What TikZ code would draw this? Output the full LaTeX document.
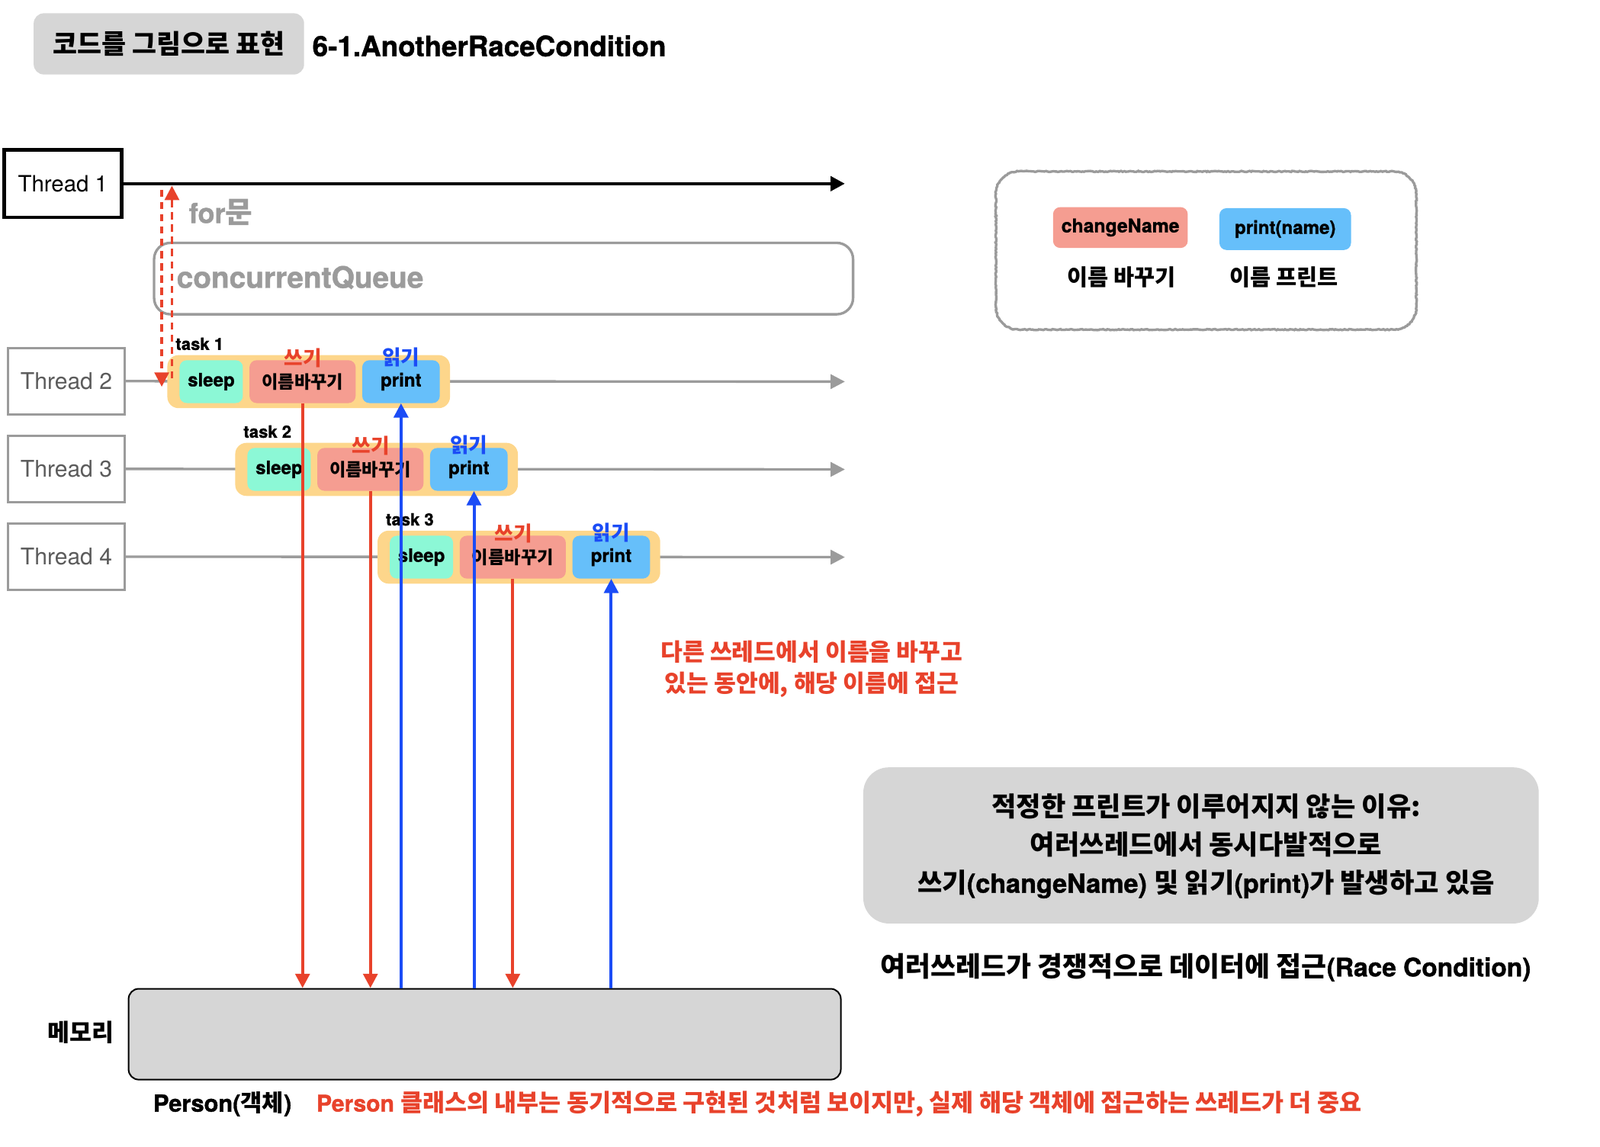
\documentclass[tikz,border=0pt]{standalone}
\usepackage{fontspec}
\setmainfont{TeX Gyre Heros}[BoldFeatures={FakeBold=1.2}]
\newfontfamily\kr{Noto Sans CJK KR}
\usetikzlibrary{arrows.meta,decorations.pathmorphing}
\definecolor{boxgray}{HTML}{D6D6D6}
\definecolor{taskorange}{HTML}{FDD68B}
\definecolor{mint}{HTML}{8CF8D6}
\definecolor{salmon}{HTML}{F59D91}
\definecolor{lblue}{HTML}{66BFFA}
\definecolor{wred}{HTML}{E8422B}
\definecolor{rblue}{HTML}{1B4CF6}
\definecolor{qgray}{HTML}{9B9B9B}
\definecolor{thtext}{HTML}{5B5B5B}
\newcommand\fsz[2]{\fontsize{#1}{#2}\selectfont}
\tikzset{
  tip/.style={-{Triangle[length=14pt,width=14pt]}},
  threadbox/.style={draw=qgray,line width=2.5pt,minimum width=114pt,minimum height=65pt,inner sep=0pt,text=thtext,font=\fsz{22.5}{27}},
  threadline/.style={draw=qgray,line width=2.5pt,tip},
  taskbox/.style={fill=taskorange,rounded corners=11pt,minimum width=277pt,minimum height=52pt,inner sep=0pt},
  cell/.style={rounded corners=7pt,minimum height=42pt,inner sep=0pt,font=\fsz{18}{22}\bfseries},
  sleepbox/.style={cell,fill=mint,minimum width=62pt},
  writebox/.style={cell,fill=salmon,minimum width=104pt,font=\kr\fsz{17.4}{21}\bfseries},
  printbox/.style={cell,fill=lblue,minimum width=76pt},
  wlabel/.style={text=wred,font=\kr\fsz{20}{24}\bfseries,inner sep=0pt},
  rlabel/.style={text=rblue,font=\kr\fsz{20}{24}\bfseries,inner sep=0pt},
  tasklabel/.style={anchor=west,inner sep=0pt,font=\fsz{16.5}{20}\bfseries},
  redarrow/.style={draw=wred,line width=3pt,tip},
  bluearrow/.style={draw=rblue,line width=3pt,tip},
  dasharrow/.style={draw=wred,line width=2.5pt,dash pattern=on 7pt off 5pt,tip},
  rough/.style={draw=qgray,line width=2.5pt,decorate,decoration={random steps,segment length=1.5pt,amplitude=0.5pt}},
}
\begin{document}
\begin{tikzpicture}[x=1pt,y=-1pt]
\useasboundingbox (0,0) rectangle (1568,1124);
% title
\node[fill=boxgray,rounded corners=10pt,minimum width=265pt,minimum height=60pt,inner sep=0pt,font=\kr\fsz{26}{30}\bfseries] (title) at (165.5,43) {코드를 그림으로 표현};
\node[anchor=west,inner sep=0pt,font=\fsz{27.5}{32}\bfseries] (title2) at (306,45) {6-1.AnotherRaceCondition};
% thread 1
\node[draw=black,line width=3.5pt,minimum width=115pt,minimum height=66pt,inner sep=0pt,font=\fsz{22}{26}] (th1) at (61.5,180) {Thread 1};
\coordinate (th1end) at (828,180);
\draw[line width=3.5pt,tip] (th1) -- (th1end);
% for loop label and queue
\node[anchor=west,inner sep=0pt,text=qgray,font=\fsz{27}{32}\bfseries] (forlbl) at (185,208) {for{\kr\fsz{29}{32}\bfseries 문}};
\node[draw=qgray,line width=2.5pt,rounded corners=16pt,minimum width=685pt,minimum height=70pt,inner sep=0pt] (cq) at (493.5,273) {};
\node[anchor=west,inner sep=0pt,text=qgray,font=\fsz{29}{34}\bfseries] (cqlbl) at (173,272) {concurrentQueue};
% threads 2-4
\node[threadbox] (th2) at (65,373.5) {Thread 2};
\node[threadbox] (th3) at (65,459.5) {Thread 3};
\node[threadbox] (th4) at (65,545.5) {Thread 4};
\coordinate (th2end) at (828,374);
\coordinate (th3end) at (828,460);
\coordinate (th4end) at (828,546);
\draw[threadline] (th2) -- (th2end);
\draw[threadline] (th3) -- (th3end);
\draw[threadline] (th4) -- (th4end);
% tasks
\foreach \i/\dx/\dy in {1/0/0,2/66.5/86,3/206/172} {
  \begin{scope}[shift={(\dx,\dy)}]
    \node[taskbox] (task\i) at (302.5,374) {};
    \node[sleepbox] (sleep\i) at (207,374) {sleep};
    \node[writebox] (write\i) at (296.5,374) {이름바꾸기};
    \node[printbox] (print\i) at (393,374) {print};
    \node[wlabel] (wl\i) at (297,351) {쓰기};
    \node[rlabel] (rl\i) at (393,350) {읽기};
    \node[tasklabel] (tl\i) at (172,337) {task \i};
  \end{scope}
}
% dashed for-loop arrows
\coordinate (dupS) at (168.5,371);
\coordinate (dupE) at (168.5,182);
\coordinate (ddnS) at (158.5,186);
\coordinate (ddnE) at (158.5,379);
\draw[dasharrow] (dupS) -- (dupE);
\draw[dasharrow] (ddnS) -- (ddnE);
% memory
\node[fill=boxgray,draw=black,line width=1.5pt,rounded corners=10pt,minimum width=698pt,minimum height=89pt,inner sep=0pt] (mem) at (475,1013.5) {};
\node[inner sep=0pt,font=\kr\fsz{23.5}{27}\bfseries] (memlbl) at (79.5,1012) {메모리};
\node[inner sep=0pt,font=\fsz{23}{27}\bfseries] (person) at (218,1082) {Person({\kr 객체})};
\node[anchor=west,inner sep=0pt,text=wred,font=\fsz{22.5}{27}\bfseries] (pnote) at (310,1082) {Person {\kr\fsz{23.6}{27}\bfseries 클래스의 내부는 동기적으로 구현된 것처럼 보이지만, 실제 해당 객체에 접근하는 쓰레드가 더 중요}};
% access arrows
\draw[redarrow] (write1.south) -- (write1.south |- mem.north);
\draw[redarrow] (write2.south) -- (write2.south |- mem.north);
\draw[redarrow] (write3.south) -- (write3.south |- mem.north);
\draw[bluearrow] (print1.south |- mem.north) -- (print1.south);
\draw[bluearrow] ([xshift=5pt]print2.south |- mem.north) -- ([xshift=5pt]print2.south);
\draw[bluearrow] (print3.south |- mem.north) -- (print3.south);
% red note
\node[align=center,inner sep=0pt,text=wred,font=\kr\fsz{23.4}{31}\bfseries] (note) at (795.5,655.5) {다른 쓰레드에서 이름을 바꾸고\\ 있는 동안에, 해당 이름에 접근};
% legend
\draw[rough] (976,190) .. controls (976,177.9) and (985.9,168) .. (998,168) -- (1366,168) .. controls (1378.1,168) and (1388,177.9) .. (1388,190) -- (1388,301) .. controls (1388,313.1) and (1378.1,323) .. (1366,323) -- (998,323) .. controls (985.9,323) and (976,313.1) .. (976,301) -- cycle;
\node[cell,fill=salmon,minimum width=132pt,minimum height=40pt,font=\fsz{18.5}{22}\bfseries] (lgchange) at (1098,223) {changeName};
\node[cell,fill=lblue,minimum width=129pt,minimum height=41pt] (lgprint) at (1259.5,224.5) {print(name)};
\node[inner sep=0pt,font=\kr\fsz{22}{26}\bfseries] (lgchangetxt) at (1099,272) {이름 바꾸기};
\node[inner sep=0pt,font=\kr\fsz{22}{26}\bfseries] (lgprinttxt) at (1258,272) {이름 프린트};
% explanation
\node[fill=boxgray,rounded corners=25pt,minimum width=662pt,minimum height=153pt,inner sep=0pt] (why) at (1177,828.5) {};
\node[align=center,inner sep=0pt,font=\kr\fsz{26.3}{37.5}\bfseries] (whytxt) at (1182,829) {적정한 프린트가 이루어지지 않는 이유:\\ 여러쓰레드에서 동시다발적으로\\ 쓰기{\rmfamily\fsz{25.5}{37.5}\bfseries(changeName) }및 읽기{\rmfamily\fsz{25.5}{37.5}\bfseries(print)}가 발생하고 있음};
\node[inner sep=0pt,font=\fsz{25}{30}\bfseries] (race) at (1181.5,948) {{\kr\fsz{26.8}{30}\bfseries 여러쓰레드가 경쟁적으로 데이터에 접근}(Race Condition)};
\end{tikzpicture}
\end{document}
